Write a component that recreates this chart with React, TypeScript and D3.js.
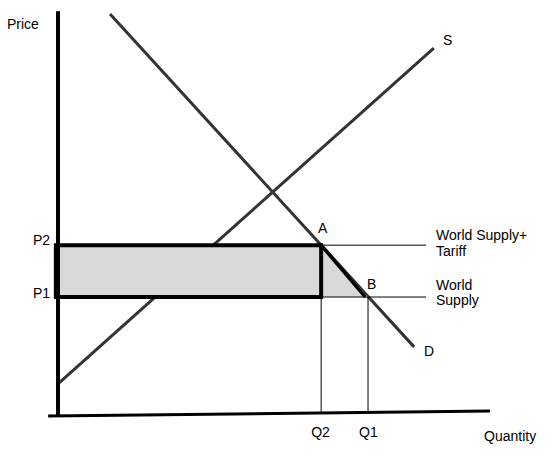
import React from "react";
import * as d3 from "d3";

// Data in (quantity, price) units
const supplyLine: [number, number][] = [[0, 7.5], [87.4, 91.0]];
const demandLine: [number, number][] = [[12.1, 99.5], [82.8, 16.7]];
const xAxisLine: [number, number][] = [[-2.3, -0.5], [100.5, 0.75]];
const yAxisLine: [number, number][] = [[0, -0.5], [0, 100.2]];
const prices = { P1: 29.1, P2: 42.0 };
const quantities = { Q2: 61.2, Q1: 72.1 };
const worldLineEnd = 85.6;
const priceLabels = ["P2", "P1"];
const quantityLabels = ["Q2", "Q1"];

const W = 553, H = 457;
const x = d3.scaleLinear().domain([0, 100]).range([58, 488]);
const y = d3.scaleLinear().domain([0, 100]).range([414, 12]);
const line = d3.line<[number, number]>().x(d => x(d[0])).y(d => y(d[1]));

export default function App() {
  const { P1, P2 } = prices;
  const { Q1, Q2 } = quantities;
  const font = "'Liberation Sans', Arial, sans-serif";
  const rect: [number, number][] = [[-0.5, P2], [Q2, P2], [Q2, P1], [-0.5, P1]];
  const tri: [number, number][] = [[Q2, P2], [Q1, P1], [Q2, P1]];
  return (
    <svg width={W} height={H} style={{ position: "absolute", left: 0, top: 0, background: "#fff" }}>
      <rect width={W} height={H} fill="#fff" />
      {/* supply & demand */}
      <path d={line(supplyLine)!} stroke="#333" strokeWidth={3} fill="none" />
      <path d={line(demandLine)!} stroke="#333" strokeWidth={3} fill="none" />
      {/* shaded areas (drawn over the supply line) */}
      <path d={line(tri)! + "Z"} fill="#d9d9d9" stroke="none" />
      <path d={line(rect)! + "Z"} fill="#d9d9d9" stroke="#000" strokeWidth={4} strokeLinejoin="miter" />
      {/* thick hypotenuse */}
      <path d={line([[Q2, P2], [Q1 - 0.6, P1]])!} stroke="#000" strokeWidth={3.5} fill="none" />
      {/* thin world price lines */}
      <path d={line([[Q2, P2], [worldLineEnd, P2]])!} stroke="#000" strokeWidth={1} fill="none" />
      <path d={line([[Q2, P1], [worldLineEnd, P1]])!} stroke="#000" strokeWidth={1} fill="none" />
      {/* thin verticals */}
      <path d={line([[Q2, P1], [Q2, 0.3]])!} stroke="#000" strokeWidth={1} fill="none" />
      <path d={line([[Q1, P1], [Q1, 0.4]])!} stroke="#000" strokeWidth={1} fill="none" />
      {/* axes */}
      <path d={line(yAxisLine)!} stroke="#000" strokeWidth={4} fill="none" />
      <path d={line(xAxisLine)!} stroke="#000" strokeWidth={3} fill="none" />
      {/* labels */}
      <g fontFamily={font} fontSize={14} fill="#000">
        <text x={7} y={29}>Price</text>
        <text x={33} y={y(P2)}>{priceLabels[0]}</text>
        <text x={33} y={y(P1) + 1}>{priceLabels[1]}</text>
        <text x={x(Q2) - 10} y={437}>{quantityLabels[0]}</text>
        <text x={x(Q1) - 9} y={437}>{quantityLabels[1]}</text>
        <text x={484} y={441}>Quantity</text>
        <text x={443} y={45}>S</text>
        <text x={424} y={356}>D</text>
        <text x={318} y={233}>A</text>
        <text x={367} y={289}>B</text>
        <text x={436} y={240}>World Supply+</text>
        <text x={436} y={256}>Tariff</text>
        <text x={436} y={290}>World</text>
        <text x={436} y={305}>Supply</text>
      </g>
    </svg>
  );
}
